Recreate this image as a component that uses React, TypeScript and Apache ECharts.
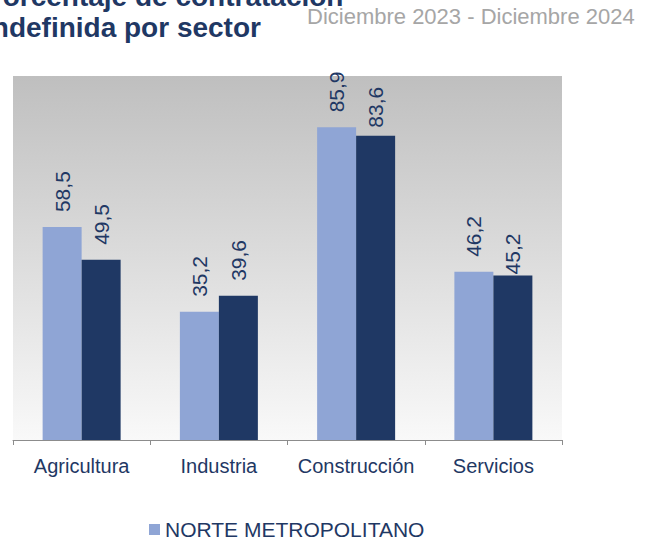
import React, { useEffect, useRef } from "react";
import * as echarts from "echarts";

const categories = ["Agricultura", "Industria", "Construcción", "Servicios"];
const seriesNames = ["NORTE METROPOLITANO", "Serie 2"];
const norteValues = [58.5, 35.2, 85.9, 46.2];
const otherValues = [49.5, 39.6, 83.6, 45.2];
const titleLines = ["Porcentaje de contratación", "indefinida por sector"];
const subtitle = "Diciembre 2023 - Diciembre 2024";

const FONT = "'Liberation Sans', Arial, sans-serif";
const NAVY = "#1F3864";
const LIGHT = "#8FA5D5";

export default function App() {
  const ref = useRef<HTMLDivElement>(null);
  useEffect(() => {
    document.body.style.margin = "0";
    if (!ref.current) return;
    const chart = echarts.init(ref.current, null, { renderer: "svg" });
    const fmt = (p: any) => Number(p.value).toFixed(1).replace(".", ",");
    const label = {
      show: true,
      position: "top",
      distance: 15,
      rotate: 90,
      align: "left",
      verticalAlign: "middle",
      color: NAVY,
      fontSize: 21,
      fontFamily: FONT,
      formatter: fmt,
    };
    // the reference nudges two labels closer to their bars
    const nudged: Record<number, number> = { 2: 8, 3: 1 };
    const otherData = otherValues.map((v, i) =>
      nudged[i] !== undefined ? { value: v, label: { distance: nudged[i] } } : v
    );
    chart.setOption({
      animation: false,
      backgroundColor: "#ffffff",
      textStyle: { fontFamily: FONT },
      graphic: [
        {
          type: "text",
          x: -16,
          y: -4,
          style: {
            text: titleLines[0],
            font: `bold 28px ${FONT}`,
            fill: NAVY,
            verticalAlign: "middle",
          },
        },
        {
          type: "text",
          x: -16,
          y: 27,
          style: {
            text: titleLines[1],
            font: `bold 28px ${FONT}`,
            fill: NAVY,
            verticalAlign: "middle",
          },
        },
        {
          type: "text",
          x: 307,
          y: 16,
          style: {
            text: subtitle,
            font: `22px ${FONT}`,
            fill: "#A6A6A6",
            verticalAlign: "middle",
          },
        },
      ],
      legend: {
        data: [seriesNames[0]],
        left: 149,
        top: 519,
        padding: 0,
        icon: "rect",
        itemWidth: 11,
        itemHeight: 11,
        itemGap: 5,
        textStyle: {
          color: NAVY,
          fontSize: 21,
          fontFamily: FONT,
          lineHeight: 21,
        },
      },
      grid: {
        left: 13,
        right: 92,
        top: 76,
        bottom: 100,
        show: true,
        borderWidth: 0,
        backgroundColor: new echarts.graphic.LinearGradient(0, 0, 0, 1, [
          { offset: 0, color: "#BFBFBF" },
          { offset: 1, color: "#F9F9F9" },
        ]),
      },
      xAxis: {
        type: "category",
        data: categories,
        axisLine: { lineStyle: { color: "#8C8C8C", width: 1 } },
        axisTick: {
          show: true,
          interval: 0,
          length: 5,
          lineStyle: { color: "#8C8C8C" },
        },
        axisLabel: {
          interval: 0,
          color: NAVY,
          fontSize: 20,
          fontFamily: FONT,
          margin: 16,
        },
        splitLine: { show: false },
      },
      yAxis: {
        type: "value",
        min: 0,
        max: 100,
        show: false,
        splitLine: { show: false },
      },
      series: [
        {
          name: seriesNames[0],
          type: "bar",
          data: norteValues,
          barWidth: 39,
          barGap: "0%",
          itemStyle: { color: LIGHT },
          label,
        },
        {
          name: seriesNames[1],
          type: "bar",
          data: otherData,
          barWidth: 39,
          barGap: "0%",
          itemStyle: { color: NAVY },
          label,
        },
      ],
    });
    return () => chart.dispose();
  }, []);
  return <div ref={ref} style={{ width: 654, height: 540 }} />;
}
